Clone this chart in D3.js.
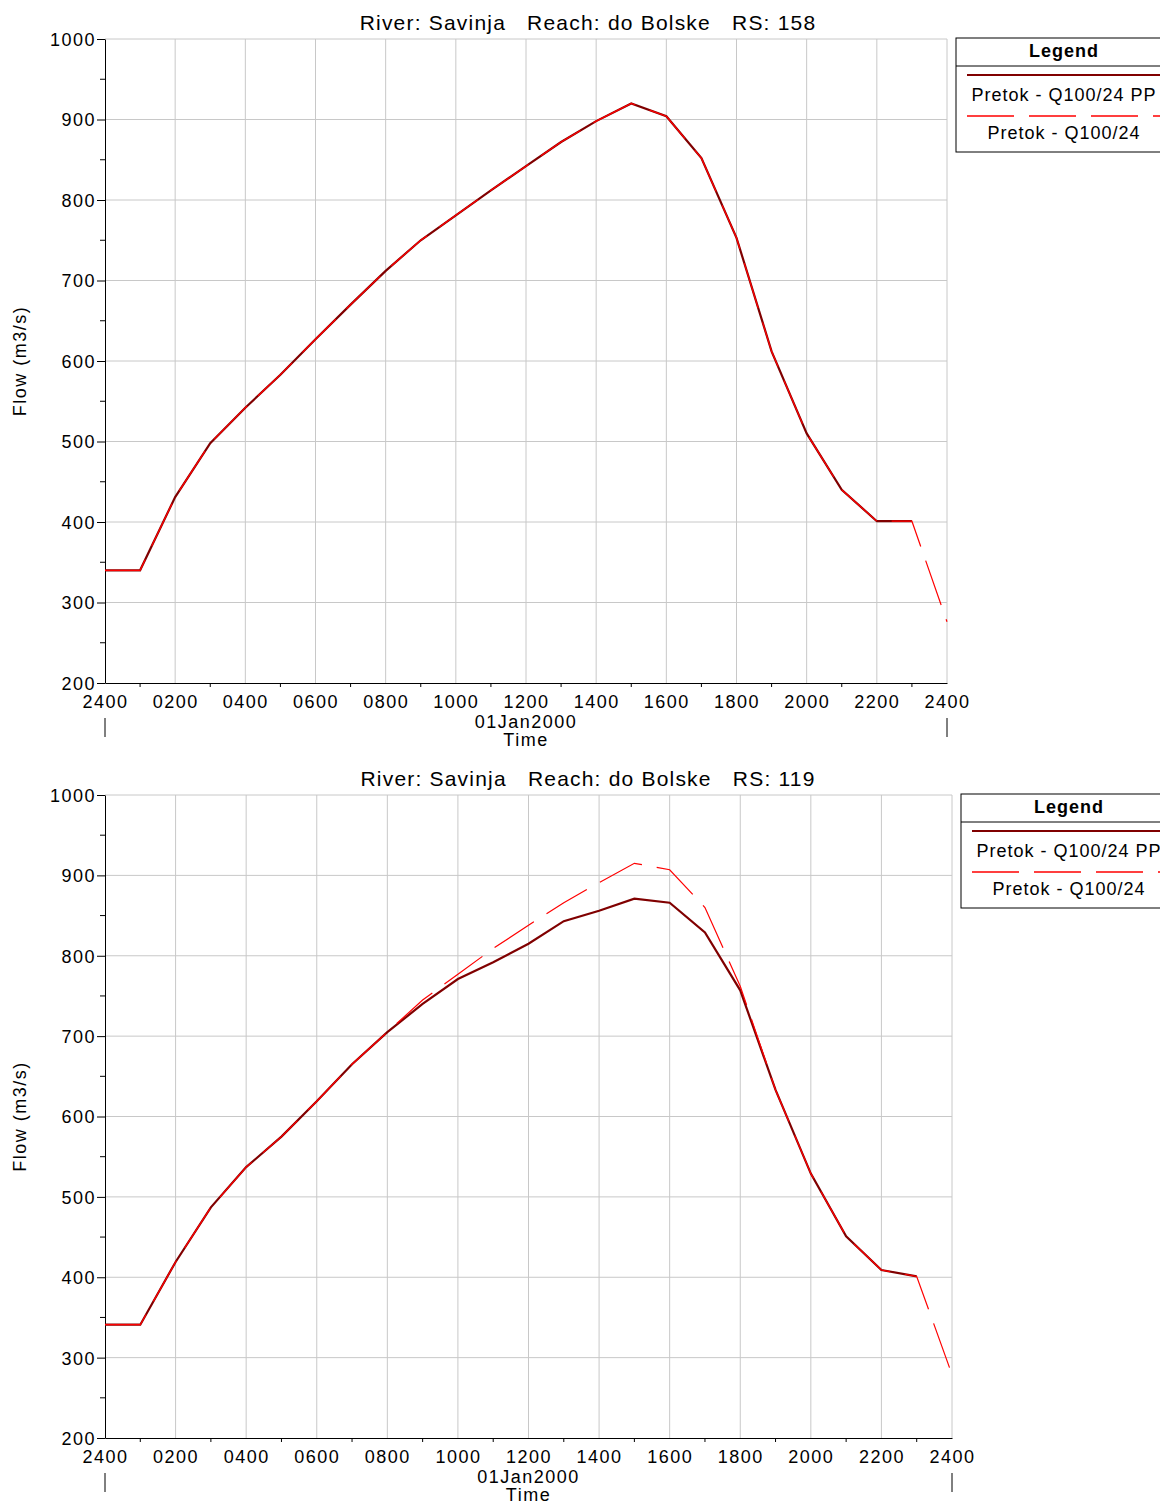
<!DOCTYPE html>
<html>
<head>
<meta charset="utf-8">
<script src="https://cdn.jsdelivr.net/npm/d3@7"></script>
<style>
  body { margin: 0; background: #fff; }
  svg { display: block; font-family: "Liberation Sans", Arial, sans-serif; }
</style>
</head>
<body>
<script>
// hourly values, 01Jan2000 2400 .. 2400
var hours = [0, 1, 2, 3, 4, 5, 6, 7, 8, 9, 10, 11, 12, 13, 14, 15, 16, 17, 18, 19, 20, 21, 22, 23, 24];
var xTickHours = [0, 2, 4, 6, 8, 10, 12, 14, 16, 18, 20, 22, 24];
var xTickLabels = ['2400', '0200', '0400', '0600', '0800', '1000', '1200', '1400', '1600', '1800', '2000', '2200', '2400'];
var yTicks = [200, 300, 400, 500, 600, 700, 800, 900, 1000];

// RS 158
var rs158PP = [340, 340, 431, 498, 542, 583, 627, 670, 712, 750, 781, 812, 842, 872, 898, 920, 904, 852, 753, 612, 510, 440, 401, 401];
var rs158Q = [340, 340, 431, 498, 542, 583, 627, 670, 712, 750, 781, 812, 842, 872, 898, 920, 904, 852, 753, 612, 510, 440, 401, 401, 276];

// RS 119
var rs119PP = [341, 341, 419, 487, 537, 575, 619, 665, 705, 740, 771, 792, 815, 843, 856, 871, 866, 829, 757, 633, 529, 451, 409, 401];
var rs119Q = [341, 341, 419, 487, 537, 575, 619, 665, 705, 745, 777, 809, 838, 866, 891, 915, 907, 860, 762, 633, 529, 451, 409, 401, 279];

var seriesNames = ['Pretok - Q100/24 PP', 'Pretok - Q100/24'];

var width = 1160;
var height = 1503;
var fontSize = 18;
var spacing = 1.5;

var svg = d3.select('body').append('svg')
  .attr('width', width)
  .attr('height', height);

var toPoints = function(vals) {
  return vals.map(function(v, i) { return { h: hours[i], v: v }; });
};

var label = function(sel, x, y, txt, anchor) {
  return sel.append('text')
    .attr('x', x).attr('y', y)
    .attr('text-anchor', anchor || 'middle')
    .attr('font-size', fontSize)
    .attr('letter-spacing', spacing)
    .text(txt);
};

var createChart = function(o) {
  var g = svg.append('g');
  var x = d3.scaleLinear().domain([0, 24]).range([o.left, o.right]);
  var y = d3.scaleLinear().domain([200, 1000]).range([o.bottom, o.top]);

  // grid
  g.selectAll('.vgrid').data(xTickHours.slice(1)).enter().append('line')
    .attr('x1', function(d) { return x(d); })
    .attr('x2', function(d) { return x(d); })
    .attr('y1', o.top).attr('y2', o.bottom)
    .attr('stroke', '#c8c8c8').attr('stroke-width', 1);
  g.selectAll('.hgrid').data(yTicks.slice(1)).enter().append('line')
    .attr('x1', o.left).attr('x2', o.right)
    .attr('y1', function(d) { return y(d); })
    .attr('y2', function(d) { return y(d); })
    .attr('stroke', '#c8c8c8').attr('stroke-width', 1);

  // y axis
  var yAxis = d3.axisLeft(y).tickValues(yTicks).tickFormat(d3.format('d'))
    .tickSize(8).tickSizeOuter(0);
  var ya = g.append('g').attr('transform', 'translate(' + o.left + ',0)').call(yAxis);
  ya.selectAll('text').attr('font-size', fontSize).attr('fill', '#000')
    .attr('letter-spacing', spacing)
    .attr('font-family', '"Liberation Sans", Arial, sans-serif').attr('dy', '0.36em').attr('x', -9);
  ya.select('.domain').attr('stroke', '#000');
  var yMinor = d3.range(250, 1000, 100);
  g.selectAll('.yminor').data(yMinor).enter().append('line')
    .attr('x1', o.left - 5).attr('x2', o.left)
    .attr('y1', function(d) { return y(d); })
    .attr('y2', function(d) { return y(d); })
    .attr('stroke', '#000');

  // x axis
  var xAxis = d3.axisBottom(x).tickValues(xTickHours)
    .tickFormat(function(d, i) { return xTickLabels[i]; })
    .tickSize(0).tickSizeOuter(0);
  var xa = g.append('g').attr('transform', 'translate(0,' + o.bottom + ')').call(xAxis);
  xa.selectAll('text').attr('font-size', fontSize).attr('fill', '#000')
    .attr('letter-spacing', spacing)
    .attr('font-family', '"Liberation Sans", Arial, sans-serif').attr('y', 12);
  xa.select('.domain').attr('stroke', '#000');
  var xMinor = d3.range(1, 24, 2);
  g.selectAll('.xminor').data(xMinor).enter().append('line')
    .attr('x1', function(d) { return x(d); })
    .attr('x2', function(d) { return x(d); })
    .attr('y1', o.bottom).attr('y2', o.bottom + 4)
    .attr('stroke', '#000');
  [0, 24].forEach(function(h) {
    g.append('line')
      .attr('x1', x(h)).attr('x2', x(h))
      .attr('y1', o.bottom + 35).attr('y2', o.bottom + 54)
      .attr('stroke', '#000');
  });
  var mid = (o.left + o.right) / 2;
  label(g, mid, o.bottom + 45, '01Jan2000');
  label(g, mid, o.bottom + 63, 'Time');

  label(g, 0, 0, 'Flow (m3/s)')
    .attr('transform', 'translate(26,' + ((o.top + o.bottom) / 2) + ') rotate(-90)');

  g.append('text')
    .attr('x', o.titleX).attr('y', o.top - 9)
    .attr('text-anchor', 'middle').attr('font-size', 21)
    .attr('letter-spacing', 1.2)
    .attr('xml:space', 'preserve')
    .text(o.title);

  // lines
  var line = d3.line()
    .x(function(d) { return x(d.h); })
    .y(function(d) { return y(d.v); });
  g.append('path').datum(toPoints(o.pp))
    .attr('d', line).attr('fill', 'none')
    .attr('stroke', '#800000').attr('stroke-width', 2.2);
  g.append('path').datum(toPoints(o.q))
    .attr('d', line).attr('fill', 'none')
    .attr('stroke', '#ff0000').attr('stroke-width', 1.2)
    .attr('stroke-dasharray', '47,15');

  // legend
  var lx = o.legendX;
  var ly = o.top - 1;
  var lw = 216;
  var lg = g.append('g');
  lg.append('rect').attr('x', lx).attr('y', ly).attr('width', lw).attr('height', 114)
    .attr('fill', '#fff').attr('stroke', '#000').attr('stroke-width', 1);
  lg.append('line').attr('x1', lx).attr('x2', lx + lw).attr('y1', ly + 28).attr('y2', ly + 28)
    .attr('stroke', '#000');
  label(lg, lx + 108, ly + 19, 'Legend').attr('font-weight', 'bold').attr('letter-spacing', 1);
  lg.append('line').attr('x1', lx + 11).attr('x2', lx + lw).attr('y1', ly + 37).attr('y2', ly + 37)
    .attr('stroke', '#800000').attr('stroke-width', 2);
  label(lg, lx + 108, ly + 63, seriesNames[0]).attr('letter-spacing', 1);
  lg.append('line').attr('x1', lx + 11).attr('x2', lx + lw).attr('y1', ly + 78).attr('y2', ly + 78)
    .attr('stroke', '#ff0000').attr('stroke-width', 1.3).attr('stroke-dasharray', '47,15');
  label(lg, lx + 108, ly + 101, seriesNames[1]).attr('letter-spacing', 1);
};

createChart({
  title: 'River: Savinja   Reach: do Bolske   RS: 158',
  left: 105, right: 947, top: 39, bottom: 683, titleX: 588,
  legendX: 956, pp: rs158PP, q: rs158Q
});

createChart({
  title: 'River: Savinja   Reach: do Bolske   RS: 119',
  left: 105, right: 952, top: 795, bottom: 1438, titleX: 588,
  legendX: 961, pp: rs119PP, q: rs119Q
});
</script>
</body>
</html>
